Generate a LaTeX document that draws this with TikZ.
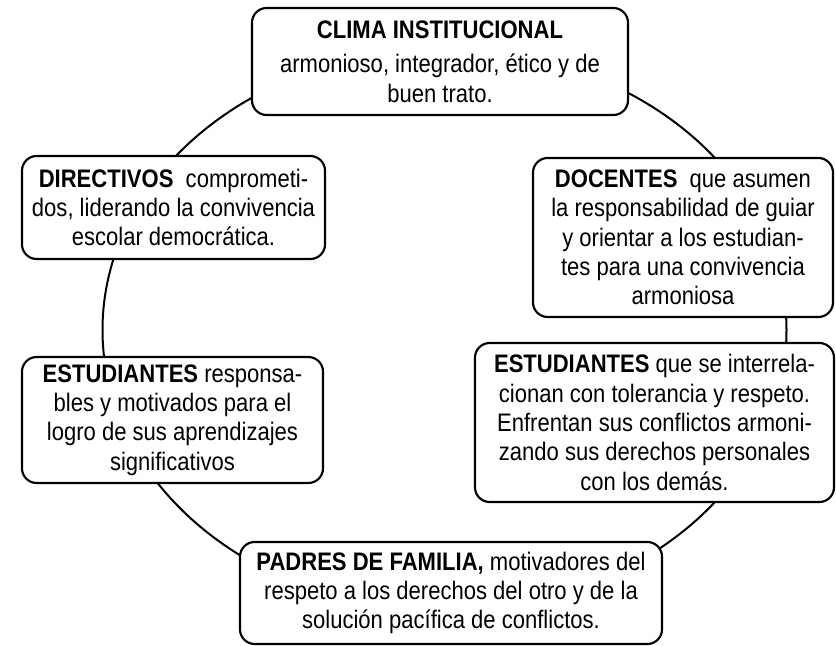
\documentclass[tikz,border=0pt]{standalone}
\usepackage{fontspec}
\setmainfont[FakeStretch=0.87]{Liberation Sans}
\begin{document}
\begin{tikzpicture}[x=0.75pt,y=-0.75pt,
  box/.style={draw, line width=1.6pt, rounded corners=11pt, fill=white, inner sep=0pt,
    align=center, font=\fontsize{19}{22}\selectfont},
  ring/.style={line width=1.5pt}]
\useasboundingbox (0,0) rectangle (836,646);
\draw[ring] (444.5,330) ellipse [x radius=342, y radius=281];
\node[box, minimum width=376*0.75pt, minimum height=107*0.75pt] (clima) at (440,61.5)
  {\textbf{CLIMA INSTITUCIONAL}\\[4pt]armonioso, integrador, ético y de\\buen trato.};
\node[box, minimum width=303*0.75pt, minimum height=103*0.75pt] (dir) at (173.5,207.5)
  {\textbf{DIRECTIVOS}\ \ comprometi-\\dos, liderando la convivencia\\escolar democrática.};
\node[box, minimum width=300*0.75pt, minimum height=159*0.75pt] (doc) at (683,237.5)
  {\textbf{DOCENTES}\ \ que asumen\\la responsabilidad de guiar\\y orientar a los estudian-\\tes para una convivencia\\armoniosa};
\node[box, minimum width=301*0.75pt, minimum height=126*0.75pt] (estl) at (172.5,420)
  {\textbf{ESTUDIANTES} responsa-\\bles y motivados para el\\logro de sus aprendizajes\\significativos};
\node[box, minimum width=359*0.75pt, minimum height=159*0.75pt] (estr) at (654.5,422.5)
  {\textbf{ESTUDIANTES} que se interrela-\\cionan con tolerancia y respeto.\\Enfrentan sus conflictos armoni-\\zando sus derechos personales\\con los demás.};
\node[box, minimum width=422*0.75pt, minimum height=102*0.75pt] (pad) at (451,593)
  {\textbf{PADRES DE FAMILIA,} motivadores del\\respeto a los derechos del otro y de la\\solución pacífica de conflictos.};
\end{tikzpicture}
\end{document}
